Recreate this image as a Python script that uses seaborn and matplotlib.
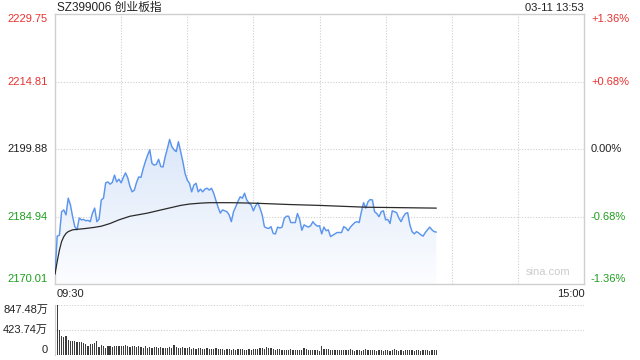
import numpy as np
import pandas as pd
import matplotlib
matplotlib.use("Agg")
import matplotlib.pyplot as plt
from matplotlib.colors import LinearSegmentedColormap
import seaborn as sns

# ---------------- data ----------------
title = "SZ399006 创业板指"
stamp = "03-11 13:53"
prev_close = 2199.88
price_ticks = [2170.01, 2184.94, 2199.88, 2214.81, 2229.75]
pct_labels = ["-1.36%", "-0.68%", "0.00%", "+0.68%", "+1.36%"]
vol_ticks = [0, 423.74, 847.48]
vol_labels = ["0", "423.74万", "847.48万"]
time_start, time_end = "09:30", "15:00"

price = [
    2172.2, 2180.6, 2180.8, 2186.0, 2186.4, 2185.3, 2189.0, 2187.5, 2184.9, 2182.7,
    2182.0, 2184.6, 2184.2, 2184.3, 2184.0, 2184.1, 2183.8, 2185.7, 2186.8, 2183.8,
    2184.4, 2188.6, 2189.0, 2192.4, 2192.6, 2192.1, 2192.5, 2194.1, 2192.6, 2193.2,
    2192.4, 2193.6, 2194.6, 2193.5, 2191.6, 2190.4, 2190.8, 2192.5, 2193.7, 2193.6,
    2195.5, 2197.1, 2198.5, 2199.7, 2196.7, 2196.3, 2196.5, 2197.6, 2196.0, 2195.9,
    2198.2, 2200.0, 2202.0, 2200.4, 2199.7, 2199.3, 2201.5, 2199.3, 2197.1, 2194.5,
    2193.0, 2192.3, 2190.4, 2191.9, 2192.3, 2190.4, 2191.0, 2190.4, 2191.0, 2191.2,
    2190.8, 2191.2, 2190.1, 2188.5, 2187.0, 2185.7, 2186.4, 2186.2, 2186.0, 2185.3,
    2183.8, 2186.0, 2187.1, 2188.3, 2189.3, 2189.0, 2190.1, 2188.6, 2187.9, 2187.5,
    2186.2, 2187.3, 2188.0, 2186.8, 2185.3, 2182.7, 2182.4, 2182.3, 2182.7, 2181.2,
    2181.1, 2182.6, 2182.4, 2182.6, 2184.5, 2185.0, 2185.0, 2183.6, 2183.6, 2183.6,
    2185.6, 2184.3, 2181.9, 2183.1, 2182.8, 2182.6, 2182.9, 2183.8, 2183.2, 2182.8,
    2182.9, 2181.1, 2182.6, 2181.8, 2182.0, 2180.5, 2180.8, 2181.1, 2181.4, 2181.4,
    2181.4, 2182.7, 2182.4, 2181.8, 2182.6, 2183.1, 2183.6, 2183.8, 2183.6, 2186.0,
    2188.0, 2186.8, 2188.2, 2188.7, 2188.6, 2186.0, 2185.6, 2184.9, 2186.0, 2186.2,
    2184.2, 2184.3, 2183.4, 2186.2, 2186.0, 2185.8, 2184.6, 2183.8, 2184.9, 2185.6,
    2185.8, 2183.1, 2181.6, 2181.1, 2181.6, 2181.3, 2180.9, 2180.6, 2181.4, 2182.0,
    2182.6, 2182.0, 2181.6, 2181.5,
]

avg_minutes = [0, 1, 2, 3, 4, 5, 6, 8, 10, 14, 18, 21, 25, 29, 34, 42, 49, 57,
               61, 66, 70, 80, 90, 106, 120, 141, 173]
avg_price = [2172.2, 2175.0, 2177.5, 2179.4, 2180.5, 2181.2, 2181.6, 2182.0,
             2182.1, 2182.3, 2182.55, 2182.8, 2183.4, 2184.2, 2185.0, 2185.7,
             2186.5, 2187.4, 2187.7, 2187.9, 2188.0, 2188.0, 2187.9, 2187.6,
             2187.4, 2187.0, 2186.8]

volume = [
    237, 847, 424, 322, 300, 322, 254, 245, 237, 237,
    226, 220, 215, 198, 190, 160, 186, 180, 200, 230,
    141, 175, 160, 113, 150, 150, 140, 150, 150, 148,
    160, 150, 162, 150, 142, 160, 155, 140, 150, 135,
    120, 145, 125, 130, 115, 128, 140, 120, 130, 115,
    118, 125, 130, 120, 175, 130, 118, 125, 140, 112,
    115, 130, 108, 118, 105, 112, 125, 100, 110, 120,
    105, 98, 110, 120, 95, 102, 98, 90, 105, 110,
    92, 100, 88, 95, 110, 98, 85, 92, 100, 88,
    95, 100, 110, 125, 118, 105, 130, 120, 112, 98,
    90, 95, 105, 85, 88, 80, 92, 95, 78, 85,
    90, 82, 88, 120, 95, 85, 80, 90, 78, 82,
    75, 145, 110, 95, 100, 88, 85, 92, 80, 78,
    90, 85, 78, 82, 95, 80, 75, 88, 80, 72,
    85, 95, 88, 78, 80, 90, 75, 82, 78, 70,
    78, 85, 72, 80, 95, 88, 75, 80, 72, 78,
    82, 90, 78, 75, 85, 80, 72, 78, 88, 80,
    75, 82, 78, 85,
]

minutes = list(range(len(price)))
total_minutes = 240

# ---------------- style ----------------
sns.set_style("white")
plt.rcParams["font.family"] = ["Liberation Sans", "Noto Sans CJK SC", "DejaVu Sans"]

RED = "#e8312f"
GREEN = "#1e9e1e"
DARK = "#222222"
GRID = "#cfcfcf"
LINE = "#5b95ee"

W, H = 640, 360
fig = plt.figure(figsize=(6.4, 3.6), dpi=100)

def frac(x0, y0, x1, y1):
    return [x0 / W, 1 - y1 / H, (x1 - x0) / W, (y1 - y0) / H]

ax = fig.add_axes(frac(55, 14, 584, 284))
axv = fig.add_axes(frac(55, 305, 584, 355))

ymin, ymax = price_ticks[0], price_ticks[-1]

df = pd.DataFrame({"minute": minutes, "price": price, "volume": volume})
dfa = pd.DataFrame({"minute": avg_minutes, "avg": avg_price})

# gradient fill under price line
poly = ax.fill_between(df["minute"], df["price"], ymin, color="none", lw=0)
clip = poly.get_paths()[0]
grad = np.linspace(1, 0, 256).reshape(-1, 1)
cmap = LinearSegmentedColormap.from_list("g", ["#fcfdff", "#dbe7f9"])
img = ax.imshow(grad, extent=[0, total_minutes, ymin, max(price)], aspect="auto",
                cmap=cmap, zorder=1, interpolation="bicubic")
img.set_clip_path(clip, transform=ax.transData)

sns.lineplot(data=df, x="minute", y="price", ax=ax, color=LINE, linewidth=1.05, zorder=3)
sns.lineplot(data=dfa, x="minute", y="avg", ax=ax, color="#2a2a2a", linewidth=0.9, zorder=4)

ax.set_xlim(0, total_minutes)
ax.set_ylim(ymin, ymax)
ax.set_xlabel("")
ax.set_ylabel("")
ax.set_xticks([])
ax.set_yticks([])
for s in ax.spines.values():
    s.set_color(GRID)
    s.set_linewidth(1.0)

for m in range(30, total_minutes, 30):
    ax.axvline(m, color=GRID, lw=0.8, ls=(0, (1, 1.5)), zorder=0.5)
for v in price_ticks[1:-1]:
    ax.axhline(v, color=GRID, lw=0.8, ls=(0, (1, 1.5)), zorder=0.5)

colors = [GREEN, GREEN, DARK, RED, RED]
vas = ["bottom", "center", "center", "center", "top"]
for v, pl, c, va in zip(price_ticks, pct_labels, colors, vas):
    ax.annotate(f"{v:.2f}", xy=(0, v), xycoords=("axes fraction", "data"),
                xytext=(-5, 0), textcoords="offset points", ha="right", va=va,
                fontsize=8, color=c)
    ax.annotate(pl, xy=(1, v), xycoords=("axes fraction", "data"),
                xytext=(5, 0), textcoords="offset points", ha="left", va=va,
                fontsize=8, color=c)

ax.text(0.975, 0.045, "sina.com", transform=ax.transAxes, ha="right", va="center",
        fontsize=8, color="#cccccc")

fig.text(57 / W, 1 - 8 / H, title, ha="left", va="center", fontsize=8.5, color=DARK)
fig.text(584 / W, 1 - 8 / H, stamp, ha="right", va="center", fontsize=8, color=DARK)
fig.text(57 / W, 1 - 294 / H, time_start, ha="left", va="center", fontsize=8, color=DARK)
fig.text(585 / W, 1 - 294 / H, time_end, ha="right", va="center", fontsize=8, color=DARK)

# volume
sns.barplot(data=df, x="minute", y="volume", ax=axv, native_scale=True,
            color="#3c3c3c", width=0.55, errorbar=None, saturation=1, linewidth=0)
axv.set_xlim(0, total_minutes)
axv.set_ylim(0, vol_ticks[-1])
axv.set_xlabel("")
axv.set_ylabel("")
axv.set_xticks([])
axv.set_yticks([])
for k in ["top", "right", "bottom"]:
    axv.spines[k].set_visible(False)
axv.spines["left"].set_color(GRID)
for v in vol_ticks[1:]:
    axv.axhline(v, color=GRID, lw=0.8, ls=(0, (1, 1.5)), zorder=0)
vvas = ["bottom", "center", "top"]
for v, lab, va in zip(vol_ticks, vol_labels, vvas):
    axv.annotate(lab, xy=(0, v), xycoords=("axes fraction", "data"),
                 xytext=(-5, 0), textcoords="offset points", ha="right", va=va,
                 fontsize=8, color=DARK)

fig.savefig("out.png", dpi=100)
